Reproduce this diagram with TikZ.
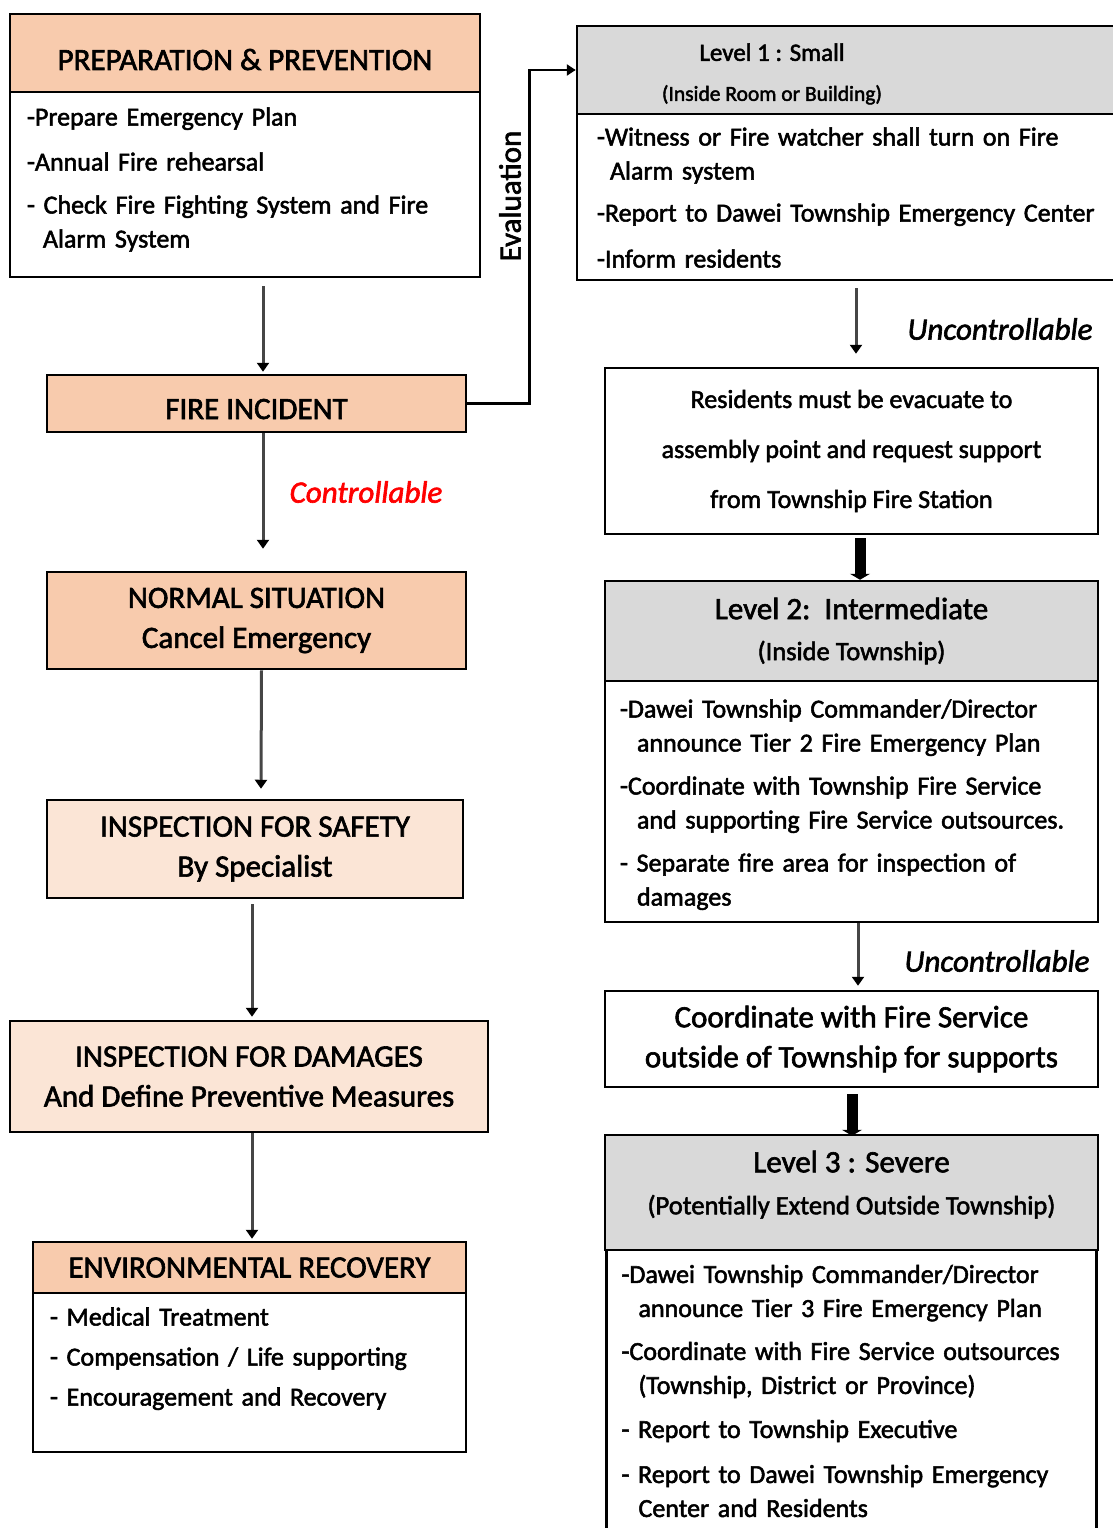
\documentclass[tikz,border=0pt]{standalone}
\usepackage{fontspec}
\setmainfont{Carlito}[FakeBold=2]
\usetikzlibrary{positioning}
\usetikzlibrary{arrows.meta}
\definecolor{peach}{RGB}{248,203,173}
\definecolor{lightpeach}{RGB}{251,229,214}
\definecolor{headgray}{RGB}{217,217,217}
\definecolor{linegray}{RGB}{70,70,70}
\newcommand{\bodyfont}{\fontsize{26}{34}\selectfont}
\newcommand{\headfont}{\fontsize{31}{40}\selectfont}
\tikzstyle{headbox} = [rectangle, 
draw=black, 
line width=2.5pt,
fill=peach, 
align=center,
font=\headfont]
\tikzstyle{inspbox} = [headbox, fill=lightpeach]
\tikzstyle{levelhead} = [rectangle, 
draw=black, 
line width=2.5pt,
fill=headgray, 
align=center,
font=\bodyfont]
\tikzstyle{bodybox} = [rectangle, 
draw=black, 
line width=2.5pt,
fill=white, 
align=left,
font=\bodyfont]
\tikzstyle{plainbox} = [rectangle, 
draw=black, 
line width=2.5pt,
align=center,
font=\bodyfont]
\tikzstyle{arrow} = [line width=3pt, draw=linegray, -{Triangle[width=12pt,length=9pt,color=black]}]
\tikzstyle{evalline} = [line width=2.5pt, -{Triangle[width=11pt,length=9pt]}]
\tikzstyle{bigarrow} = [line width=11pt, -{Triangle[width=20pt,length=6pt]}]
\tikzstyle{flowlabel} = [font=\fontsize{31}{36}\selectfont\itshape]

\begin{document}
\begin{tikzpicture}[x=1pt, y=-1pt]
            \useasboundingbox (0,0) rectangle (1113,1528);
            % left column
            \node (prephead) [headbox, minimum width=470pt, minimum height=78pt, text height=34pt, text depth=0pt] at (245,53) {PREPARATION \& PREVENTION};
            \node (prepbody) [bodybox, below=-2.5pt of prephead, minimum height=185pt, text width=436pt, inner xsep=17pt, text depth=136pt] {-Prepare Emergency Plan\\[11pt]-Annual Fire rehearsal\\[9pt]- Check Fire Fighting System and Fire\\\hspace*{16pt}Alarm System};
            \node (fire) [headbox, minimum width=419pt, minimum height=57pt, text height=31pt, text depth=0pt] at (256.5,403.5) {FIRE INCIDENT};
            \node (normal) [headbox, minimum width=419pt, minimum height=97pt] at (256.5,620.5) {NORMAL SITUATION\\Cancel Emergency};
            \node (safety) [inspbox, minimum width=416pt, minimum height=98pt] at (255,849) {INSPECTION FOR SAFETY\\By Specialist};
            \node (damage) [inspbox, minimum width=478pt, minimum height=111pt] at (249,1076.5) {INSPECTION FOR DAMAGES\\And Define Preventive Measures};
            \node (envhead) [headbox, minimum width=433pt, minimum height=51pt] at (249.5,1267.5) {ENVIRONMENTAL RECOVERY};
            \node (envbody) [bodybox, below=-2.5pt of envhead, minimum height=159pt, text width=399pt, inner xsep=17pt, text depth=112pt] {- Medical Treatment\\[6pt]- Compensation / Life supporting\\[6pt]- Encouragement and Recovery};

            % right column
            \node (lvl1head) [levelhead, minimum width=550pt, minimum height=88pt] at (852,70) {};
            \node (lvl1title) [align=center, font=\fontsize{21.5}{40}\selectfont] at (772,74) {{\fontsize{25}{30}\selectfont Level 1 : Small}\\(Inside Room or Building)};
            \node (lvl1body) [bodybox, below=-2.5pt of lvl1head, minimum height=166pt, text width=510pt, inner xsep=20pt, text depth=121pt] {-Witness or Fire watcher shall turn on Fire\\\hspace*{13pt}Alarm system\\[8pt]-Report to Dawei Township Emergency Center\\[12pt]-Inform residents};
            \node (resid) [plainbox, minimum width=493pt, minimum height=166pt, font=\fontsize{26}{50}\selectfont] at (851.5,451) {Residents must be evacuate to\\assembly point and request support\\from Township Fire Station};
            \node (lvl2head) [levelhead, minimum width=493pt, minimum height=100pt, font=\fontsize{26.5}{41}\selectfont] at (851.5,631) {{\fontsize{31}{38}\selectfont Level 2:\ \ Intermediate}\\(Inside Township)};
            \node (lvl2body) [bodybox, below=-2.5pt of lvl2head, minimum height=241pt, text width=463pt, inner xsep=15pt, text depth=186pt] {-Dawei Township Commander/Director\\\hspace*{17pt}announce Tier 2 Fire Emergency Plan\\[9pt]-Coordinate with Township Fire Service\\\hspace*{17pt}and supporting Fire Service outsources.\\[9pt]- Separate fire area for inspection of\\\hspace*{17pt}damages};
            \node (coord) [plainbox, minimum width=493pt, minimum height=96pt, font=\headfont] at (851.5,1039) {Coordinate with Fire Service\\outside of Township for supports};
            \node (lvl3head) [levelhead, minimum width=493pt, minimum height=115pt, font=\fontsize{26.5}{42}\selectfont, text depth=20pt] at (851.5,1192.5) {{\fontsize{31}{38}\selectfont Level 3 : Severe}\\(Potentially Extend Outside Township)};
            \node (lvl3body) [bodybox, below=-2.5pt of lvl3head, minimum height=282pt, text width=460pt, inner xsep=15pt] {-Dawei Township Commander/Director\\\hspace*{17pt}announce Tier 3 Fire Emergency Plan\\[9pt]-Coordinate with Fire Service outsources\\\hspace*{17pt}(Township, District or Province)\\[10pt]- Report to Township Executive\\[11pt]- Report to Dawei Township Emergency\\\hspace*{17pt}Center and Residents};

            % labels
            \node (evallabel) [rotate=90, font=\fontsize{31}{36}\selectfont] at (510,196) {Evaluation};
            \node (ctrl) [flowlabel, text=red] at (366,492) {Controllable};
            \node (unctrlA) [flowlabel] at (1000,329) {Uncontrollable};
            \node (unctrlB) [flowlabel] at (997,961) {Uncontrollable};

            \draw [arrow] ([xshift=18pt,yshift=-8pt]prepbody.south) -- ([xshift=6.5pt,yshift=2pt]fire.north);
            \draw [evalline] (fire.east) -- ++(62,0) |- (lvl1head.west);
            \draw [arrow] ([xshift=6.5pt]fire.south) -- ([xshift=6.5pt,yshift=22pt]normal.north);
            \draw [arrow] ([xshift=5pt]normal.south) -- ([xshift=6pt,yshift=10pt]safety.north);
            \draw [arrow] ([xshift=-3pt,yshift=-5pt]safety.south) -- ([xshift=3pt,yshift=3pt]damage.north);
            \draw [arrow] ([xshift=3pt]damage.south) -- ([xshift=2.5pt,yshift=2pt]envhead.north);
            \draw [arrow] ([xshift=4pt,yshift=-7pt]lvl1body.south) -- ([xshift=4.5pt,yshift=13pt]resid.north);
            \draw [bigarrow] ([xshift=8.5pt,yshift=-3pt]resid.south) -- ([xshift=8.5pt]lvl2head.north);
            \draw [arrow] ([xshift=6.5pt]lvl2body.south) -- ([xshift=6.5pt,yshift=4pt]coord.north);
            \draw [bigarrow] ([xshift=0.5pt,yshift=-6pt]coord.south) -- ([xshift=0.5pt,yshift=-2pt]lvl3head.north);
        \end{tikzpicture}
\end{document}
